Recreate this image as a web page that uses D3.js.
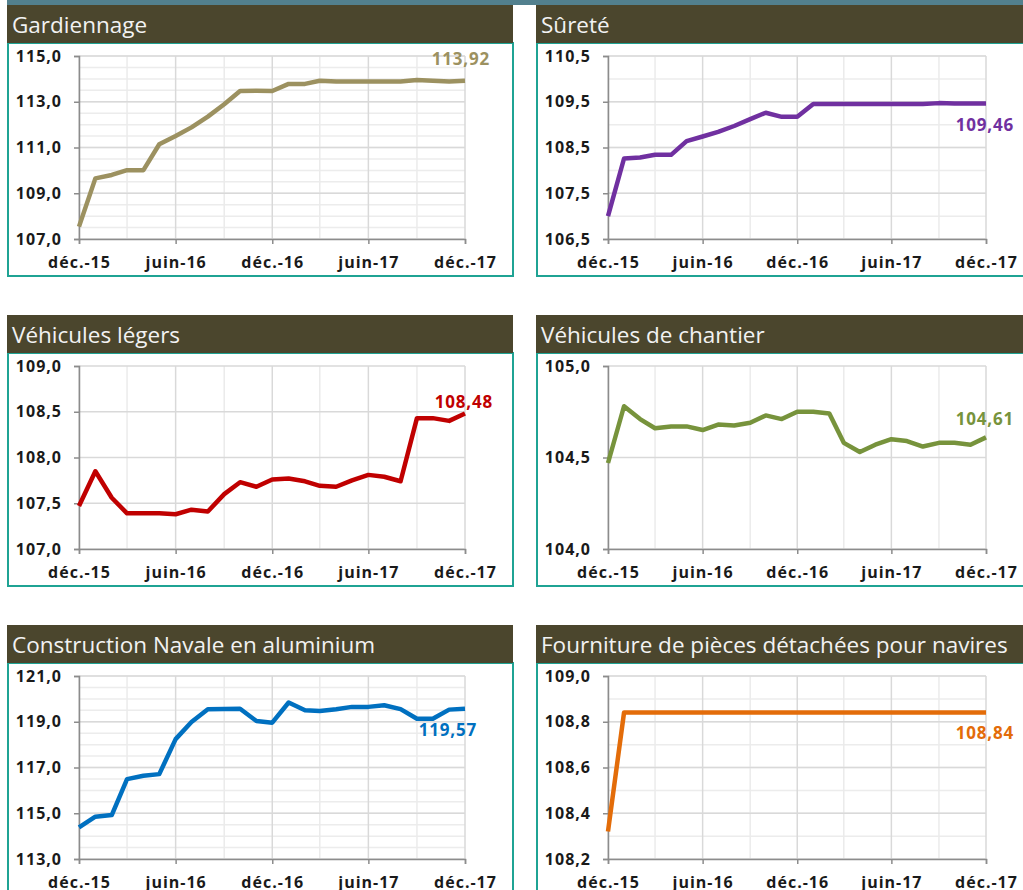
<!DOCTYPE html>
<html>
<head>
<meta charset="utf-8">
<script src="https://cdn.jsdelivr.net/npm/d3@7"></script>
<style>
  body { margin: 0; background: #fff; }
  svg { display: block; }
  text { font-family: "Open Sans", "DejaVu Sans", sans-serif; }
</style>
</head>
<body>
<div id="chart"></div>
<script>

// Data

var months = [
  "2015-12", "2016-01", "2016-02", "2016-03", "2016-04", "2016-05", "2016-06",
  "2016-07", "2016-08", "2016-09", "2016-10", "2016-11", "2016-12",
  "2017-01", "2017-02", "2017-03", "2017-04", "2017-05", "2017-06",
  "2017-07", "2017-08", "2017-09", "2017-10", "2017-11", "2017-12"
]
var tickMonths = ["2015-12", "2016-06", "2016-12", "2017-06", "2017-12"]
var tickLabels = ["déc.-15", "juin-16", "déc.-16", "juin-17", "déc.-17"]

var gardiennage = [107.54, 109.65, 109.80, 110.01, 110.01, 111.14, 111.50, 111.88, 112.35, 112.89,
  113.47, 113.48, 113.47, 113.78, 113.78, 113.92, 113.88, 113.89, 113.89, 113.89,
  113.89, 113.95, 113.92, 113.89, 113.92]

var surete = [107.00, 108.26, 108.28, 108.34, 108.34, 108.64, 108.74, 108.84, 108.97, 109.12,
  109.26, 109.17, 109.17, 109.45, 109.45, 109.45, 109.45, 109.45, 109.45, 109.45,
  109.45, 109.47, 109.46, 109.46, 109.46]

var vehiculesLegers = [107.47, 107.85, 107.56, 107.39, 107.39, 107.39, 107.38, 107.43, 107.41, 107.60,
  107.73, 107.68, 107.76, 107.77, 107.74, 107.69, 107.68, 107.75, 107.81, 107.79,
  107.74, 108.43, 108.43, 108.40, 108.48]

var vehiculesChantier = [104.47, 104.78, 104.71, 104.66, 104.67, 104.67, 104.65, 104.68, 104.675, 104.69,
  104.73, 104.71, 104.75, 104.75, 104.74, 104.58, 104.53, 104.57, 104.60, 104.59,
  104.56, 104.58, 104.58, 104.57, 104.61]

var navaleAlu = [114.38, 114.85, 114.92, 116.49, 116.64, 116.71, 118.24, 118.99, 119.55, 119.56,
  119.57, 119.03, 118.96, 119.84, 119.50, 119.47, 119.55, 119.65, 119.65, 119.72,
  119.55, 119.13, 119.13, 119.53, 119.57]

var piecesNavires = [108.32, 108.84, 108.84, 108.84, 108.84, 108.84, 108.84, 108.84, 108.84, 108.84,
  108.84, 108.84, 108.84, 108.84, 108.84, 108.84, 108.84, 108.84, 108.84, 108.84,
  108.84, 108.84, 108.84, 108.84, 108.84]


// Panels (layout and style)

var panels = [
  { title: "Gardiennage", values: gardiennage, domain: [107, 115], step: 2, minor: 0.5,
    color: "#9c9160", col: 0, row: 0, ldx: 25, ldy: -16 },
  { title: "Sûreté", values: surete, domain: [106.5, 110.5], step: 1, minor: 0.5,
    color: "#7030a0", col: 1, row: 0, ldx: 28, ldy: 27 },
  { title: "Véhicules légers", values: vehiculesLegers, domain: [107, 109], step: 0.5, minor: null,
    color: "#c00000", col: 0, row: 1, ldx: 28, ldy: -6 },
  { title: "Véhicules de chantier", values: vehiculesChantier, domain: [104, 105], step: 0.5, minor: null,
    color: "#77933c", col: 1, row: 1, ldx: 28, ldy: -12 },
  { title: "Construction Navale en aluminium", values: navaleAlu, domain: [113, 121], step: 2, minor: 0.5,
    color: "#0070c0", col: 0, row: 2, ldx: 12, ldy: 27 },
  { title: "Fourniture de pièces détachées pour navires", values: piecesNavires, domain: [108.2, 109], step: 0.2, minor: 0.1,
    color: "#e36c09", col: 1, row: 2, ldx: 28, ldy: 26 }
]

var cols = [
  { hx: 7, hw: 506, bx: 8, bw: 505, ax: 79, ar: 465, tx: 12 },
  { hx: 536, hw: 500, bx: 537, bw: 500, ax: 608, ar: 986, tx: 541 }
]
var rowTops = [5, 315, 625]

var locale = d3.formatLocale({ decimal: ",", thousands: " ", grouping: [3], currency: ["", " €"] })
var fmt1 = locale.format(".1f")
var fmt2 = locale.format(".2f")
var parseMonth = d3.timeParse("%Y-%m")

const width = 1023
const height = 890

const svg = d3.select("#chart").append("svg")
  .attr("width", width)
  .attr("height", height)

// top band
svg.append("rect")
  .attr("x", 7).attr("y", 0)
  .attr("width", width - 7).attr("height", 5)
  .attr("fill", "#52808e")

panels.forEach(function (p) {
  var c = cols[p.col]
  var top = rowTops[p.row]
  var y0 = top + 51, y1 = top + 234

  var g = svg.append("g")

  // box
  g.append("rect")
    .attr("x", c.bx).attr("y", top + 38)
    .attr("width", c.bw).attr("height", 233)
    .attr("fill", "#fff")
    .attr("stroke", "#1fa394")
    .attr("stroke-width", 2)

  // header
  g.append("rect")
    .attr("x", c.hx).attr("y", top)
    .attr("width", c.hw).attr("height", 38)
    .attr("fill", "#4b462d")

  g.append("text")
    .attr("x", c.tx).attr("y", top + 28)
    .attr("fill", "#f2f2f2")
    .attr("font-size", 22.5)
    .text(p.title)

  var x = d3.scaleTime()
    .domain([parseMonth(months[0]), parseMonth(months[months.length - 1])])
    .range([c.ax, c.ar])

  var y = d3.scaleLinear()
    .domain(p.domain)
    .range([y1, y0])

  var majors = d3.range(p.domain[0], p.domain[1] + p.step / 2, p.step)
  var minors = p.minor ? d3.range(p.domain[0], p.domain[1] + p.minor / 2, p.minor) : []
  var quarterMonths = months.filter(function (m, i) { return i % 3 == 0 })

  // minor horizontal grid
  g.append("g")
    .selectAll("line")
    .data(minors)
    .join("line")
    .attr("x1", c.ax).attr("x2", c.ar)
    .attr("y1", d => y(d)).attr("y2", d => y(d))
    .attr("stroke", "#ececec")
    .attr("stroke-width", 1.5)

  // vertical grid (every 3 months light, every 6 darker)
  g.append("g")
    .selectAll("line")
    .data(quarterMonths)
    .join("line")
    .attr("x1", d => x(parseMonth(d))).attr("x2", d => x(parseMonth(d)))
    .attr("y1", y0).attr("y2", y1)
    .attr("stroke", d => tickMonths.indexOf(d) >= 0 ? "#d9d9d9" : "#ebebeb")
    .attr("stroke-width", 1.5)

  // major horizontal grid
  g.append("g")
    .selectAll("line")
    .data(majors)
    .join("line")
    .attr("x1", c.ax).attr("x2", c.ar)
    .attr("y1", d => y(d)).attr("y2", d => y(d))
    .attr("stroke", "#d9d9d9")
    .attr("stroke-width", 1.5)

  // axes
  var yAxis = g.append("g")
    .attr("transform", `translate(${c.ax},0)`)
    .call(d3.axisLeft(y).tickValues(majors).tickFormat(fmt1).tickSize(5).tickPadding(12))
  var xAxis = g.append("g")
    .attr("transform", `translate(0,${y1})`)
    .call(d3.axisBottom(x)
      .tickValues(tickMonths.map(parseMonth))
      .tickFormat((d, i) => tickLabels[i])
      .tickSize(5).tickPadding(13))

  ;[yAxis, xAxis].forEach(function (a) {
    a.select(".domain").attr("stroke", "#8c8c8c").attr("stroke-width", 1.5)
    a.selectAll(".tick line").attr("stroke", "#8c8c8c").attr("stroke-width", 1.5)
    a.selectAll("text")
      .attr("fill", "#1a1a1a")
      .attr("font-size", 16)
      .attr("font-weight", "bold")
      .attr("letter-spacing", "1px")
      .style("font-family", '"Open Sans", sans-serif')
  })

  // line
  var line = d3.line()
    .x((d, i) => x(parseMonth(months[i])))
    .y(d => y(d))

  g.append("path")
    .datum(p.values)
    .attr("d", line)
    .attr("fill", "none")
    .attr("stroke", p.color)
    .attr("stroke-width", 4.5)
    .attr("stroke-linejoin", "round")

  // last value label
  var last = p.values[p.values.length - 1]
  g.append("text")
    .attr("x", x(parseMonth(months[months.length - 1])) + p.ldx)
    .attr("y", y(last) + p.ldy)
    .attr("text-anchor", "end")
    .attr("fill", p.color)
    .attr("font-size", 17)
    .attr("font-weight", "bold")
    .attr("letter-spacing", "0.8px")
    .text(fmt2(last))
})

</script>
</body>
</html>
